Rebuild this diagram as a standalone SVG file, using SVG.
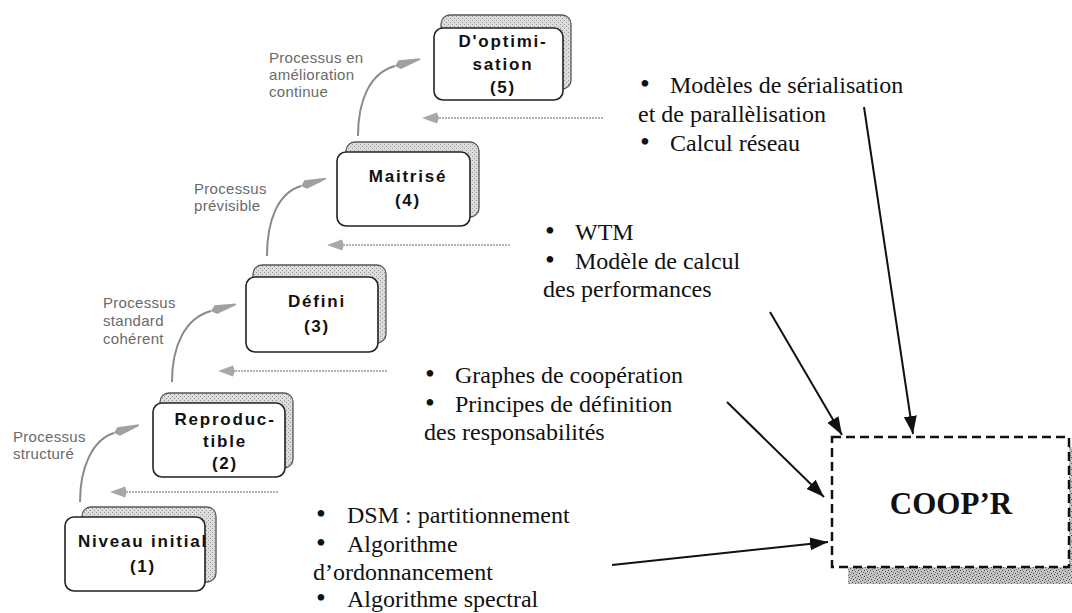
<svg xmlns="http://www.w3.org/2000/svg" width="1072" height="613" viewBox="0 0 1072 613">
<style>
.back{fill:url(#cardDither);stroke:#555;stroke-width:1.3}
.front{fill:#fff;stroke:#222;stroke-width:1.6}
.nt{font-family:"Liberation Sans",Arial,sans-serif;font-weight:bold;font-size:17px;letter-spacing:1.8px;fill:#111;text-anchor:middle}
.lbl{font-family:"Liberation Sans",Arial,sans-serif;font-size:15px;letter-spacing:0.3px;fill:#6a6a6a}
.ser{font-family:"Liberation Serif","Times New Roman",serif;font-size:24px;fill:#111}
.bul{font-family:"Liberation Serif","Times New Roman",serif;font-size:28px;fill:#111}
.curve{fill:none;stroke:#8a8a8a;stroke-width:2;marker-end:url(#gHead)}
.grayline{fill:none;stroke:#9a9a9a;stroke-width:1.3;stroke-dasharray:2 1;marker-end:url(#lHead)}
.blk{fill:none;stroke:#111;stroke-width:2;marker-end:url(#bHead)}
</style>
<defs>
<pattern id="dither" width="6" height="6" patternUnits="userSpaceOnUse">
<rect width="6" height="6" fill="#c4c4c4"/>
<rect x="0" y="0" width="1" height="1" fill="#444"/>
<rect x="3" y="1" width="1" height="1" fill="#555"/>
<rect x="1" y="3" width="1" height="1" fill="#444"/>
<rect x="4" y="4" width="1" height="1" fill="#555"/>
<rect x="5" y="2" width="1" height="1" fill="#777"/>
<rect x="2" y="5" width="1" height="1" fill="#777"/>
</pattern>
<pattern id="cardDither" width="4" height="4" patternUnits="userSpaceOnUse">
<rect width="4" height="4" fill="#dcdcdc"/>
<rect x="0" y="0" width="1" height="1" fill="#999"/>
<rect x="2" y="2" width="1" height="1" fill="#999"/>
</pattern>
<marker id="gHead" markerWidth="30" markerHeight="12" viewBox="0 -6 30 12" refX="0" refY="0" orient="auto" markerUnits="userSpaceOnUse">
<path d="M0,0 L5,-4.5 L26,-0.8 L26,0.8 L5,4.5 Z" fill="#a0a0a0"/>
</marker>
<marker id="lHead" markerWidth="20" markerHeight="14" viewBox="0 -7 20 14" refX="0" refY="0" orient="auto" markerUnits="userSpaceOnUse">
<path d="M0,0 L2,-5.5 L17,0 L2,5.5 Z" fill="#a8a8a8"/>
</marker>
<marker id="bHead" markerWidth="20" markerHeight="14" viewBox="0 -7 20 14" refX="18" refY="0" orient="auto" markerUnits="userSpaceOnUse">
<path d="M0,-6.5 L18,0 L0,6.5 Z" fill="#111"/>
</marker>
</defs>

<g id="connectors">
<path class="curve" d="M80,502 C80,468 92,440 114,433"/>
<path class="curve" d="M172,382 C172,346 185,318 211,311"/>
<path class="curve" d="M267,256 C267,220 278,193 301,186"/>
<path class="curve" d="M358,136 C358,100 370,73 395,66"/>
<path class="grayline" d="M603,118 L439,118"/>
<path class="grayline" d="M510,245 L344,245"/>
<path class="grayline" d="M387,371 L235,371"/>
<path class="grayline" d="M278,492 L127,492"/>
<path class="blk" d="M864,107 L913,434"/>
<path class="blk" d="M770,312 L842,435"/>
<path class="blk" d="M727,402 L824,497"/>
<path class="blk" d="M612,565 L828,542"/>
</g>

<g id="labels">
<text class="lbl" x="269" y="63">Processus en</text>
<text class="lbl" x="269" y="80">amélioration</text>
<text class="lbl" x="269" y="97">continue</text>
<text class="lbl" x="194" y="194">Processus</text>
<text class="lbl" x="194" y="211">prévisible</text>
<text class="lbl" x="103" y="308">Processus</text>
<text class="lbl" x="103" y="326">standard</text>
<text class="lbl" x="103" y="344">cohérent</text>
<text class="lbl" x="13" y="442">Processus</text>
<text class="lbl" x="13" y="459">structuré</text>
</g>

<g id="node5">
<rect class="back" x="441" y="15" width="130" height="74" rx="9"/>
<rect class="front" x="434" y="28" width="129" height="72" rx="9"/>
<text class="nt" x="503" y="47">D'optimi-</text>
<text class="nt" x="503" y="70">sation</text>
<text class="nt" x="503" y="93">(5)</text>
</g>
<g id="node4">
<rect class="back" x="346" y="142" width="133" height="75" rx="9"/>
<rect class="front" x="337" y="152" width="133" height="74" rx="9"/>
<text class="nt" x="408" y="182">Maitrisé</text>
<text class="nt" x="408" y="206">(4)</text>
</g>
<g id="node3">
<rect class="back" x="253" y="265" width="133" height="78" rx="9"/>
<rect class="front" x="246" y="277" width="132" height="75" rx="9"/>
<text class="nt" x="317" y="307">Défini</text>
<text class="nt" x="317" y="332">(3)</text>
</g>
<g id="node2">
<rect class="back" x="160" y="393" width="133" height="75" rx="9"/>
<rect class="front" x="153" y="403" width="132" height="74" rx="9"/>
<text class="nt" x="225" y="425">Reproduc-</text>
<text class="nt" x="225" y="447">tible</text>
<text class="nt" x="225" y="469">(2)</text>
</g>
<g id="node1">
<rect class="back" x="82" y="507" width="134" height="75" rx="9"/>
<rect class="front" x="65" y="517" width="140" height="74" rx="9"/>
<text class="nt" x="143" y="547">Niveau initial</text>
<text class="nt" x="143" y="572">(1)</text>
</g>

<g id="block1">
<text class="bul" x="640" y="93">•</text>
<text class="ser" x="670" y="93">Modèles de sérialisation</text>
<text class="ser" x="638" y="122">et de parallèlisation</text>
<text class="bul" x="640" y="151">•</text>
<text class="ser" x="670" y="151">Calcul réseau</text>
</g>
<g id="block2">
<text class="bul" x="545" y="240">•</text>
<text class="ser" x="575" y="240">WTM</text>
<text class="bul" x="545" y="269">•</text>
<text class="ser" x="575" y="269">Modèle de calcul</text>
<text class="ser" x="543" y="297">des performances</text>
</g>
<g id="block3">
<text class="bul" x="425" y="383">•</text>
<text class="ser" x="455" y="383">Graphes de coopération</text>
<text class="bul" x="425" y="412">•</text>
<text class="ser" x="455" y="412">Principes de définition</text>
<text class="ser" x="424" y="440">des responsabilités</text>
</g>
<g id="block4">
<text class="bul" x="316" y="523">•</text>
<text class="ser" x="347" y="523">DSM : partitionnement</text>
<text class="bul" x="316" y="552">•</text>
<text class="ser" x="347" y="552">Algorithme</text>
<text class="ser" x="313" y="580">d’ordonnancement</text>
<text class="bul" x="316" y="607">•</text>
<text class="ser" x="347" y="607">Algorithme spectral</text>
</g>

<g id="coopr">
<rect x="848" y="567" width="224" height="17" fill="url(#dither)"/>
<rect x="1069" y="447" width="3" height="137" fill="url(#dither)"/>
<rect x="832" y="437" width="237" height="130" fill="#fff" stroke="#111" stroke-width="2.5" stroke-dasharray="9 5"/>
<text x="951" y="514" text-anchor="middle" font-family="'Liberation Serif','Times New Roman',serif" font-weight="bold" font-size="31" fill="#111">COOP’R</text>
</g>
</svg>
